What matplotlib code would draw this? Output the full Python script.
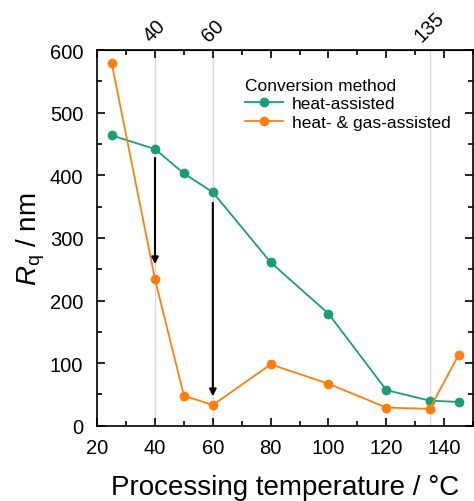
import numpy as np
import matplotlib.pyplot as plt
from matplotlib.ticker import MultipleLocator

plt.rcParams['font.family'] = ['Liberation Sans', 'DejaVu Sans']
plt.rcParams['mathtext.fontset'] = 'custom'
plt.rcParams['mathtext.rm'] = 'Liberation Sans'
plt.rcParams['mathtext.it'] = 'Liberation Sans:italic'

# data
temp = [25, 40, 50, 60, 80, 100, 120, 135, 145]
rq_heat = [464, 442, 403, 373, 261, 179, 57, 40, 38]
rq_heat_gas = [580, 234, 48, 33, 98, 67, 29, 27, 113]
marked_temps = [40, 60, 135]
arrow_x = [40, 60]
arrow_from = [428, 356]
arrow_to = [258, 47]

green = '#1b9e77'
orange = '#ff7f0e'

fig = plt.figure(figsize=(4.74, 5.02), dpi=100)
ax = fig.add_axes([0.205, 0.15, 0.793, 0.748])

for t in marked_temps:
    ax.axvline(t, color='#d9d9d9', lw=1, zorder=0)

ax.plot(temp, rq_heat, '-o', color=green, ms=6, lw=1.3, label='heat-assisted')
ax.plot(temp, rq_heat_gas, '-o', color=orange, ms=6, lw=1.3, label='heat- & gas-assisted')

for x, y0, y1 in zip(arrow_x, arrow_from, arrow_to):
    ax.annotate('', xy=(x, y1), xytext=(x, y0),
                arrowprops=dict(arrowstyle='-|>', color='black', lw=1.5,
                                mutation_scale=10, shrinkA=0, shrinkB=0))

ax.set_xlim(20, 150)
ax.set_ylim(0, 600)
ax.xaxis.set_major_locator(MultipleLocator(20))
ax.xaxis.set_minor_locator(MultipleLocator(10))
ax.yaxis.set_major_locator(MultipleLocator(100))
ax.yaxis.set_minor_locator(MultipleLocator(50))
ax.tick_params(which='both', direction='in', top=True, right=True, labelsize=14.5, width=1.2)
ax.tick_params(which='major', length=6)
ax.tick_params(which='minor', length=3.5)
ax.tick_params(axis='y', which='both', pad=10)
ax.tick_params(axis='x', which='both', pad=9)
for s in ax.spines.values():
    s.set_linewidth(1.2)

ax.set_xlabel('Processing temperature / °C', fontsize=20, labelpad=12)
ax.set_ylabel('$R_\\mathrm{q}$ / nm', fontsize=20, labelpad=2)

top = ax.secondary_xaxis('top')
top.set_xticks(marked_temps)
top.set_xticklabels([str(t) for t in marked_temps], rotation=45, fontsize=14.5)
top.tick_params(length=0, pad=4)

leg = ax.legend(title='Conversion method', loc='upper right', bbox_to_anchor=(0.958, 0.945),
                frameon=False, fontsize=12.5, title_fontsize=12.5, handlelength=2.2,
                handletextpad=0.5, borderaxespad=0, labelspacing=0.2)
leg._legend_box.align = 'left'

fig.savefig('out.png', dpi=100)
